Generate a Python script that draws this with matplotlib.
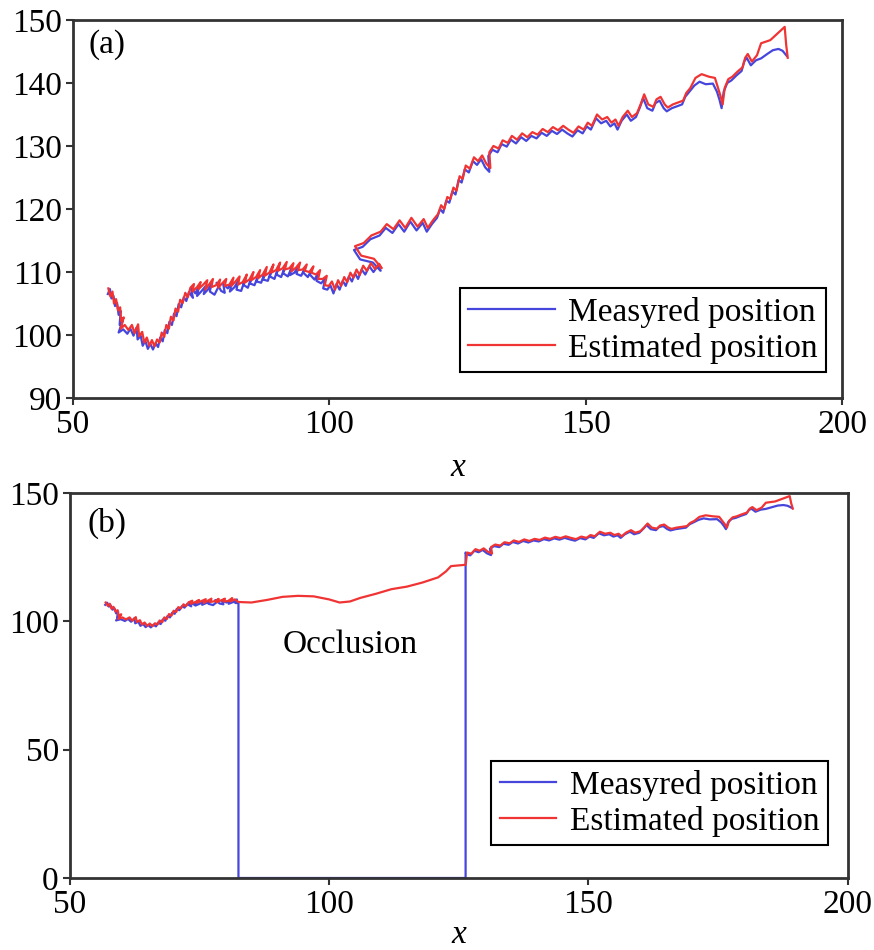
import matplotlib.pyplot as plt
import numpy as np

plt.rcParams['font.family'] = ['Liberation Serif', 'DejaVu Serif']

# measured track (x, y)
meas_x = [56.8, 57.2, 57.5, 57.9, 58.2, 58.6, 58.9, 59.3, 59.1, 59.7, 58.9, 59.8, 60.6, 61.2, 61.8,
          62.4, 62.6, 63.2, 63.6, 64.1, 64.6, 65.1, 65.6, 66.1, 66.6, 67.0, 67.5, 67.9, 68.4, 68.8,
          69.3, 69.7, 70.2, 70.6, 71.1, 71.6, 72.1,
          72.6, 73.4, 73.0, 73.9, 74.6, 74.2, 75.1, 75.9, 75.5, 76.4,
          77.0, 76.7, 77.6, 78.4, 78.0, 78.9, 79.6, 79.3, 80.2, 81.0,
          80.6, 81.5, 82.2, 81.9, 82.8, 83.6, 83.2, 84.1, 84.9, 84.5,
          85.4, 86.2, 85.8, 86.7, 87.5, 87.1, 88.0, 88.8, 88.4, 89.3,
          90.1, 89.7, 90.6, 91.4, 91.0, 91.9, 92.7, 92.3, 93.2, 94.0,
          93.6, 94.5, 95.3, 94.9, 95.8, 96.6, 96.2, 97.1, 97.9, 97.5,
          98.4, 99.2, 98.8, 99.6,
          100.2, 100.8, 101.4, 102.0, 102.6, 103.2, 103.8,
          104.4, 105.0, 105.6, 106.3, 107.0, 107.8, 108.6, 109.4, 110.0,
          108.5, 106.0, 104.8, 106.5, 108.0, 109.8, 111.0, 112.3, 113.5, 114.6, 115.8, 117.0, 118.2, 119.0,
          120.0, 121.0, 121.6, 122.2, 122.8, 123.4, 124.0, 124.6, 125.2, 125.8, 126.4, 127.2, 128.0, 128.8,
          129.6, 130.4, 131.2, 131.0, 131.8, 132.8, 133.6, 134.6, 135.4, 136.4, 137.4, 138.4, 139.4, 140.4,
          141.4, 142.4, 143.4, 144.4, 145.4, 146.4, 147.4, 148.4, 149.4, 150.2, 151.0, 152.0, 153.0, 154.0,
          154.8, 155.6, 156.2, 157.0, 158.0, 158.8, 159.8, 160.6, 161.2, 162.0, 163.0, 163.6, 164.4, 165.2,
          165.8, 166.8, 167.8, 168.8, 169.4, 170.2, 171.2, 172.2, 173.4, 174.8, 175.6, 176.1, 176.5, 176.9,
          177.6, 178.4, 179.4, 180.4, 180.9, 181.4, 182.2, 183.2, 184.2, 185.4, 186.5, 187.6, 188.4, 189.2]
meas_y = [106.5, 107.3, 105.8, 106.2, 104.6, 105.1, 103.2, 103.8, 101.6, 102.3, 100.4, 100.9, 100.2, 101.0, 99.9,
          101.2, 99.3, 99.9, 98.3, 99.1, 97.8, 98.6, 97.7, 98.7, 98.1, 99.6, 99.0, 100.8, 100.3, 102.1,
          101.6, 103.4, 103.0, 104.9, 104.4, 106.0, 105.4,
          106.8, 105.9, 107.5, 106.6, 107.9, 106.2, 107.0, 107.8, 106.5, 107.3,
          108.2, 106.9, 106.4, 107.7, 108.3, 107.0, 106.7, 108.1, 107.4, 108.4,
          106.9, 107.6, 108.6, 107.2, 107.0, 108.9, 108.0, 107.5, 109.3, 108.2,
          107.9, 109.6, 108.5, 108.3, 110.1, 108.8, 108.6, 110.5, 109.3, 108.9,
          110.9, 109.6, 109.2, 111.0, 109.8, 109.3, 110.8, 109.5, 109.9, 111.0,
          109.7, 109.4, 110.7, 109.9, 109.2, 110.4, 109.6, 108.8, 109.9, 108.6,
          108.2, 109.0, 107.4, 107.2,
          107.9, 106.6, 108.1, 107.2, 108.6, 107.8, 109.3,
          108.5, 109.8, 108.9, 110.4, 109.6, 110.9, 110.0, 110.9, 110.2,
          111.5, 112.0, 113.5, 114.0, 115.2, 115.8, 117.0, 116.2, 117.6, 116.4, 118.0, 116.6, 117.8, 116.4,
          117.6, 118.6, 120.0, 119.4, 121.3, 121.0, 122.8, 122.3, 124.6, 124.2, 126.3, 125.8, 127.6, 127.0,
          127.9, 126.6, 125.9, 128.4, 129.4, 129.0, 130.3, 129.9, 131.0, 130.4, 131.4, 130.8, 131.6, 131.2,
          132.1, 131.6, 132.4, 131.9, 132.6, 132.0, 131.5, 132.5, 132.0, 133.1, 132.6, 134.4, 133.6, 134.0,
          133.1, 133.6, 132.6, 134.0, 135.0, 134.0, 134.6, 136.2, 137.6, 136.0, 135.6, 136.8, 137.2, 136.0,
          135.5, 136.0, 136.3, 136.6, 137.8, 138.6, 139.6, 140.2, 139.8, 139.9, 138.6, 137.3, 136.0, 138.6,
          140.0, 140.4, 141.2, 141.9, 143.4, 144.0, 142.8, 143.6, 143.9, 144.6, 145.2, 145.4, 145.1, 144.3]

# estimated track (x, y)
est_x = [56.9, 57.3, 57.7, 58.0, 58.4, 58.8, 59.2, 59.4, 59.9, 59.3, 60.1, 60.8, 61.5, 62.0, 62.7,
         62.9, 63.5, 63.9, 64.4, 64.9, 65.4, 65.9, 66.4, 66.9, 67.3, 67.8, 68.2, 68.7, 69.1, 69.6,
         70.0, 70.5, 70.9, 71.4, 71.9, 72.4,
         72.9, 73.6, 73.3, 74.2, 74.9, 74.5, 75.4, 76.2, 75.8, 76.7,
         77.3, 77.0, 77.9, 78.7, 78.3, 79.2, 79.9, 79.6, 80.5, 81.3,
         80.9, 81.8, 82.5, 82.2, 83.1, 83.9, 83.5, 84.4, 85.2, 84.8,
         85.7, 86.5, 86.1, 87.0, 87.8, 87.4, 88.3, 89.1, 88.7, 89.6,
         90.4, 90.0, 90.9, 91.7, 91.3, 92.2, 93.0, 92.6, 93.5, 94.3,
         93.9, 94.8, 95.6, 95.2, 96.1, 96.9, 96.5, 97.4, 98.2, 97.8,
         98.7, 99.5, 99.1, 99.9,
         100.5, 101.1, 101.7, 102.3, 102.9, 103.5, 104.1, 104.7,
         105.3, 105.9, 106.6, 107.3, 108.1, 108.9, 109.7, 110.2,
         108.7, 106.2, 105.0, 106.7, 108.2, 110.0, 111.2, 112.5, 113.7, 114.8, 116.0, 117.2, 118.4, 119.2,
         120.2, 121.2, 121.8, 122.4, 123.0, 123.6, 124.2, 124.8, 125.4, 126.0, 126.6, 127.4, 128.2, 129.0,
         129.8, 130.6, 131.4, 131.2, 132.0, 133.0, 133.8, 134.8, 135.6, 136.6, 137.6, 138.6, 139.6, 140.6,
         141.6, 142.6, 143.6, 144.6, 145.6, 146.6, 147.6, 148.6, 149.6, 150.4, 151.2, 152.2, 153.2, 154.2,
         155.0, 155.8, 156.4, 157.2, 158.2, 159.0, 160.0, 160.8, 161.4, 162.2, 163.2, 163.8, 164.6, 165.4,
         166.0, 167.0, 168.0, 169.0, 169.6, 170.4, 171.4, 172.6, 174.0, 175.2, 175.8, 176.3, 176.7, 177.1,
         177.8, 178.6, 179.6, 180.6, 181.1, 181.6, 182.4, 183.4, 184.2, 186.0, 188.8, 189.1, 189.4]
est_y = [107.4, 106.1, 106.9, 105.0, 105.7, 103.9, 104.4, 102.2, 102.8, 101.0, 101.6, 100.8, 101.6, 100.3, 101.7,
         99.8, 100.5, 98.8, 99.6, 98.3, 99.2, 98.2, 99.3, 98.8, 100.4, 99.7, 101.6, 101.0, 102.9, 102.3,
         104.2, 103.7, 105.6, 105.1, 106.7, 106.0,
         107.5, 108.1, 106.9, 107.6, 108.4, 107.3, 108.0, 108.7, 107.2, 108.2,
         108.9, 107.6, 107.9, 108.8, 107.5, 108.3, 108.9, 107.8, 108.0, 109.1,
         107.8, 108.6, 109.3, 108.0, 108.4, 109.6, 108.3, 108.8, 110.0, 108.7,
         109.2, 110.3, 109.0, 109.6, 110.8, 109.4, 109.9, 111.2, 109.9, 110.3,
         111.5, 110.2, 110.6, 111.6, 110.4, 110.6, 111.4, 110.1, 110.7, 111.5,
         110.3, 110.4, 111.2, 110.2, 110.0, 110.9, 109.9, 109.6, 110.3, 108.9,
         108.9, 109.4, 107.9, 107.8,
         108.5, 107.2, 108.7, 107.8, 109.2, 108.4, 109.9, 109.1,
         110.4, 109.5, 111.0, 110.2, 111.4, 110.5, 111.3, 110.6,
         112.1, 112.6, 114.1, 114.6, 115.8, 116.4, 117.6, 116.8, 118.2, 117.0, 118.6, 117.2, 118.4, 117.0,
         118.2, 119.2, 120.6, 120.0, 121.9, 121.6, 123.4, 122.9, 125.2, 124.8, 126.9, 126.4, 128.2, 127.6,
         128.5, 127.2, 126.5, 129.0, 130.0, 129.6, 130.9, 130.5, 131.6, 131.0, 132.0, 131.4, 132.2, 131.8,
         132.7, 132.2, 133.0, 132.5, 133.2, 132.6, 132.1, 133.1, 132.6, 133.7, 133.2, 135.0, 134.2, 134.6,
         133.7, 134.2, 133.2, 134.6, 135.6, 134.6, 135.2, 136.8, 138.2, 136.6, 136.2, 137.4, 137.8, 136.6,
         136.1, 136.6, 136.9, 137.2, 138.4, 139.2, 140.8, 141.4, 141.0, 140.8, 139.2, 137.9, 136.6, 139.2,
         140.6, 141.0, 141.8, 142.5, 144.0, 144.6, 143.4, 144.4, 146.3, 146.8, 148.9, 146.0, 144.0]

# occlusion interval and the filter prediction inside it
occl_start = 82.5
occl_end = 126.3
pred_x = [82.5, 85.0, 88.0, 91.0, 94.0, 97.0, 100.0, 102.0, 104.0, 106.0, 109.0, 112.0, 115.0,
          118.0, 121.0, 122.5, 123.5, 126.3]
pred_y = [107.6, 107.4, 108.4, 109.6, 110.0, 109.8, 108.6, 107.4, 107.8, 109.2, 110.8, 112.6, 113.6,
          115.2, 117.2, 119.5, 121.6, 122.1]

meas_x = np.array(meas_x)
meas_y = np.array(meas_y)
est_x = np.array(est_x)
est_y = np.array(est_y)

blue = '#4646dc'
red = '#f03434'
fs = 24
lw = 1.6

fig = plt.figure(figsize=(8.74, 9.5), dpi=100)
ax1 = fig.add_axes([0.0835, 0.581, 0.88, 0.398])
ax2 = fig.add_axes([0.080, 0.0758, 0.890, 0.405])


def style(ax, lpad):
    for s in ax.spines.values():
        s.set_linewidth(2)
        s.set_color('#333333')
    ax.tick_params(direction='out', length=5, width=1.5, labelsize=fs, pad=3,
                   top=False, right=False, color='#333333')
    ax.set_xlabel('x', fontsize=fs, style='italic', labelpad=lpad)


# (a) full track
ax1.plot(meas_x, meas_y, color=blue, lw=lw, label='Measyred position')
ax1.plot(est_x, est_y, color=red, lw=lw, label='Estimated position')
ax1.set_xlim(50, 200)
ax1.set_ylim(90, 150)
ax1.set_xticks([50, 100, 150, 200])
ax1.set_yticks(np.arange(90, 151, 10))
style(ax1, 9)
ax1.text(0.02, 0.935, '(a)', transform=ax1.transAxes, fontsize=fs, va='center', ha='left')
ax1.legend(loc='lower right', bbox_to_anchor=(0.979, 0.069), fontsize=fs, frameon=True,
           fancybox=False, edgecolor='black', framealpha=1, handlelength=2.6,
           borderpad=0.25, labelspacing=0.15, handletextpad=0.4, borderaxespad=0).get_frame().set_linewidth(1.5)

# (b) with occlusion
i1 = int(np.argmax(meas_x >= occl_start))
i2 = int(np.where(meas_x < occl_end)[0][-1]) + 1
mb_x = np.concatenate([meas_x[:i1], [occl_start, occl_start, occl_end, occl_end], meas_x[i2:]])
mb_y = np.concatenate([meas_y[:i1], [meas_y[i1 - 1], 0, 0, est_y[np.argmax(est_x >= occl_end)]], meas_y[i2:]])
j1 = int(np.argmax(est_x >= occl_start))
j2 = int(np.where(est_x < occl_end)[0][-1]) + 1
eb_x = np.concatenate([est_x[:j1], pred_x, est_x[j2:]])
eb_y = np.concatenate([est_y[:j1], pred_y, est_y[j2:]])

ax2.plot(mb_x, mb_y, color=blue, lw=lw, label='Measyred position')
ax2.plot(eb_x, eb_y, color=red, lw=lw, label='Estimated position')
ax2.set_xlim(50, 200)
ax2.set_ylim(0, 150)
ax2.set_xticks([50, 100, 150, 200])
ax2.set_yticks([0, 50, 100, 150])
style(ax2, 0)
ax2.text(0.023, 0.922, '(b)', transform=ax2.transAxes, fontsize=fs, va='center', ha='left')
ax2.text(104, 91, 'Occlusion', fontsize=fs, ha='center', va='center')
ax2.legend(loc='lower right', bbox_to_anchor=(0.974, 0.086), fontsize=fs, frameon=True,
           fancybox=False, edgecolor='black', framealpha=1, handlelength=1.7,
           borderpad=0.25, labelspacing=0.15, handletextpad=0.4, borderaxespad=0).get_frame().set_linewidth(1.5)

fig.savefig('out.png', dpi=100)
